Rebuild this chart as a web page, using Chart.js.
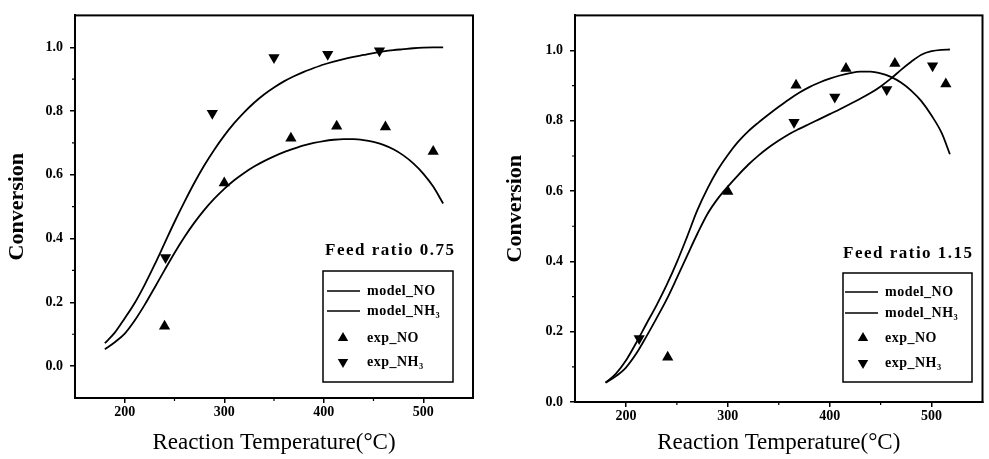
<!DOCTYPE html>
<html>
<head>
<meta charset="utf-8">
<script src="https://cdn.jsdelivr.net/npm/chart.js@4.4.0/dist/chart.umd.min.js"></script>
<style>
  html, body { margin: 0; padding: 0; background: #fff; width: 989px; height: 459px; overflow: hidden; }
  .panel { position: absolute; top: 0; }
  #panelA { left: 0; }
  #panelB { left: 490px; }
</style>
</head>
<body>
<div class="panel" id="panelA"><canvas id="chartA" width="482" height="459"></canvas></div>
<div class="panel" id="panelB"><canvas id="chartB" width="499" height="459"></canvas></div>
<script>
// DATI - feed ratio 0.75 (sinistra)
const tModelA = [180, 190, 200, 210, 220, 230, 240, 250, 260, 270, 280, 290, 300, 310, 320, 330, 340, 350, 360, 370, 380, 390, 400, 410, 420, 430, 440, 450, 460, 470, 480, 490, 500, 510, 520];
const nh3ModelA = [0.072, 0.105, 0.15, 0.198, 0.255, 0.318, 0.385, 0.452, 0.515, 0.575, 0.63, 0.679, 0.723, 0.762, 0.796, 0.826, 0.852, 0.874, 0.893, 0.909, 0.923, 0.935, 0.946, 0.955, 0.963, 0.97, 0.976, 0.982, 0.987, 0.991, 0.994, 0.997, 0.999, 1.0, 1.0];
const noModelA = [0.053, 0.075, 0.102, 0.143, 0.192, 0.246, 0.301, 0.355, 0.405, 0.45, 0.49, 0.525, 0.556, 0.583, 0.606, 0.626, 0.643, 0.658, 0.671, 0.682, 0.692, 0.7, 0.706, 0.71, 0.712, 0.712, 0.709, 0.703, 0.694, 0.68, 0.661, 0.636, 0.604, 0.563, 0.51];
const tExpNoA = [240, 300, 367, 413, 462, 510];
const expNoA = [0.125, 0.574, 0.715, 0.752, 0.75, 0.673];
const tExpNh3A = [241, 288, 350, 404, 456];
const expNh3A = [0.341, 0.793, 0.968, 0.978, 0.989];

// DATI - feed ratio 1.15 (destra)
const tModelB = [180, 190, 200, 210, 220, 230, 240, 250, 260, 270, 280, 290, 300, 310, 320, 330, 340, 350, 360, 370, 380, 390, 400, 410, 420, 430, 440, 450, 460, 470, 480, 490, 500, 510, 518];
const noModelB = [0.055, 0.08, 0.118, 0.168, 0.222, 0.275, 0.333, 0.398, 0.47, 0.545, 0.607, 0.66, 0.703, 0.74, 0.77, 0.795, 0.818, 0.84, 0.861, 0.88, 0.896, 0.909, 0.92, 0.929, 0.936, 0.94, 0.94, 0.935, 0.925, 0.909, 0.886, 0.856, 0.815, 0.765, 0.705];
const nh3ModelB = [0.055, 0.073, 0.098, 0.137, 0.186, 0.238, 0.292, 0.353, 0.416, 0.478, 0.535, 0.578, 0.613, 0.645, 0.675, 0.701, 0.724, 0.744, 0.762, 0.777, 0.791, 0.805, 0.819, 0.833, 0.848, 0.863, 0.879, 0.898, 0.92, 0.945, 0.968, 0.988, 0.998, 1.002, 1.003];
const tExpNoB = [241, 300, 367, 416, 464, 514];
const expNoB = [0.127, 0.599, 0.901, 0.949, 0.963, 0.905];
const tExpNh3B = [213, 365, 405, 456, 501];
const expNh3B = [0.181, 0.796, 0.868, 0.889, 0.957];

// TICKS
const xTicks = [200, 300, 400, 500];
const xMinorTicks = [250, 350, 450];
const yTicks = [0.0, 0.2, 0.4, 0.6, 0.8, 1.0];
const yMinorTicks = [0.1, 0.3, 0.5, 0.7, 0.9];

const SERIF = "'Liberation Serif', 'DejaVu Serif', serif";

function punti(xs, ys) {
  return xs.map((x, i) => ({ x: x, y: ys[i] }));
}

// cornice + tacche minori + legenda interna
const cornicePlugin = {
  id: 'cornice',
  afterDraw(chart, args, opts) {
    const ctx = chart.ctx;
    const a = chart.chartArea;
    const sx = chart.scales.x;
    const sy = chart.scales.y;
    ctx.save();
    ctx.strokeStyle = '#000';
    ctx.lineWidth = 2;
    ctx.strokeRect(a.left, a.top, a.right - a.left, a.bottom - a.top);

    // tacche minori
    ctx.lineWidth = 1.2;
    ctx.beginPath();
    xMinorTicks.forEach(v => {
      const px = sx.getPixelForValue(v);
      ctx.moveTo(px, a.bottom);
      ctx.lineTo(px, a.bottom + 3);
    });
    yMinorTicks.forEach(v => {
      const py = sy.getPixelForValue(v);
      ctx.moveTo(a.left, py);
      ctx.lineTo(a.left - 3, py);
    });
    ctx.stroke();

    const L = opts.legenda;
    // titolo feed ratio
    ctx.fillStyle = '#000';
    ctx.font = 'bold 17px ' + SERIF;
    ctx.letterSpacing = '1.5px';
    ctx.textBaseline = 'middle';
    ctx.textAlign = 'left';
    ctx.fillText(opts.titolo, L.feedX, L.feedY);

    // box
    ctx.lineWidth = 1.5;
    ctx.strokeRect(L.x, L.y, L.w, L.h);

    ctx.font = 'bold 14px ' + SERIF;
    ctx.letterSpacing = '0.5px';
    chart.data.datasets.forEach((ds, i) => {
      const y = L.rows[i];
      if (ds.showLine) {
        ctx.lineWidth = 1.5;
        ctx.beginPath();
        ctx.moveTo(L.lineX1, y);
        ctx.lineTo(L.lineX2, y);
        ctx.stroke();
      } else {
        const r = 6;
        const giu = ds.pointRotation === 180 ? -1 : 1;
        ctx.beginPath();
        ctx.moveTo(L.markerX, y - giu * r);
        ctx.lineTo(L.markerX - r * 0.866, y + giu * r * 0.5);
        ctx.lineTo(L.markerX + r * 0.866, y + giu * r * 0.5);
        ctx.closePath();
        ctx.fill();
      }
      ctx.fillText(ds.label, L.textX, y);
    });
    ctx.restore();
  }
};

function creaGrafico(id, cfg) {
  return new Chart(document.getElementById(id), {
    type: 'scatter',
    data: {
      datasets: [
        {
          label: 'model_NO',
          data: punti(cfg.tModel, cfg.noModel),
          showLine: true,
          borderColor: '#000',
          borderWidth: 1.8,
          pointRadius: 0,
          cubicInterpolationMode: 'monotone',
          fill: false
        },
        {
          label: 'model_NH\u2083',
          data: punti(cfg.tModel, cfg.nh3Model),
          showLine: true,
          borderColor: '#000',
          borderWidth: 1.8,
          pointRadius: 0,
          cubicInterpolationMode: 'monotone',
          fill: false
        },
        {
          label: 'exp_NO',
          data: punti(cfg.tExpNo, cfg.expNo),
          showLine: false,
          pointStyle: 'triangle',
          pointRadius: 6.5,
          backgroundColor: '#000',
          borderColor: '#000',
          borderWidth: 0
        },
        {
          label: 'exp_NH\u2083',
          data: punti(cfg.tExpNh3, cfg.expNh3),
          showLine: false,
          pointStyle: 'triangle',
          pointRotation: 180,
          pointRadius: 6.5,
          backgroundColor: '#000',
          borderColor: '#000',
          borderWidth: 0
        }
      ]
    },
    options: {
      responsive: false,
      animation: false,
      layout: { padding: { top: cfg.padTop, right: cfg.padRight, left: 0, bottom: 0 } },
      plugins: {
        legend: { display: false },
        tooltip: { enabled: false },
        cornice: { titolo: cfg.titolo, legenda: cfg.legenda }
      },
      scales: {
        x: {
          type: 'linear',
          min: 150,
          max: 550,
          afterBuildTicks: s => { s.ticks = xTicks.map(v => ({ value: v })); },
          afterFit: s => { s.height = cfg.xAxisH; },
          grid: { drawOnChartArea: false, tickLength: 5, color: '#000', lineWidth: 1.5 },
          border: { color: '#000', width: 2 },
          ticks: { color: '#000', padding: 1, maxRotation: 0, font: { family: SERIF, size: 14, weight: 'bold' } },
          title: {
            display: true,
            text: 'Reaction Temperature(°C)',
            color: '#000',
            padding: { top: 0, bottom: 2 },
            font: { family: SERIF, size: 23 }
          }
        },
        y: {
          min: cfg.yMin,
          max: 1.1,
          afterBuildTicks: s => { s.ticks = yTicks.map(v => ({ value: v })); },
          afterFit: s => { s.width = cfg.yAxisW; },
          grid: { drawOnChartArea: false, tickLength: 5, color: '#000', lineWidth: 1.5 },
          border: { color: '#000', width: 2 },
          ticks: {
            color: '#000',
            padding: 7,
            font: { family: SERIF, size: 14, weight: 'bold' },
            callback: v => v.toFixed(1)
          },
          title: {
            display: true,
            text: 'Conversion',
            color: '#000',
            padding: { top: cfg.yTitlePad, bottom: 0 },
            font: { family: SERIF, size: 22, weight: 'bold' }
          }
        }
      }
    },
    plugins: [cornicePlugin]
  });
}

creaGrafico('chartA', {
  tModel: tModelA, noModel: noModelA, nh3Model: nh3ModelA,
  tExpNo: tExpNoA, expNo: expNoA, tExpNh3: tExpNh3A, expNh3: expNh3A,
  yMin: -0.1, padTop: 14, padRight: 9, xAxisH: 61, yAxisW: 75, yTitlePad: 4,
  titolo: 'Feed ratio 0.75',
  legenda: { x: 323, y: 271, w: 130, h: 111, lineX1: 327, lineX2: 360, textX: 367, markerX: 343, rows: [291, 311, 338, 362], feedX: 325, feedY: 251 }
});

creaGrafico('chartB', {
  tModel: tModelB, noModel: noModelB, nh3Model: nh3ModelB,
  tExpNo: tExpNoB, expNo: expNoB, tExpNh3: tExpNh3B, expNh3: expNh3B,
  yMin: 0, padTop: 5, padRight: 1, xAxisH: 57, yAxisW: 85, yTitlePad: 12,
  titolo: 'Feed ratio 1.15',
  legenda: { x: 353, y: 273, w: 129, h: 109, lineX1: 355, lineX2: 388, textX: 395, markerX: 373, rows: [292, 313, 338, 363], feedX: 353, feedY: 254 }
});
</script>
</body>
</html>
